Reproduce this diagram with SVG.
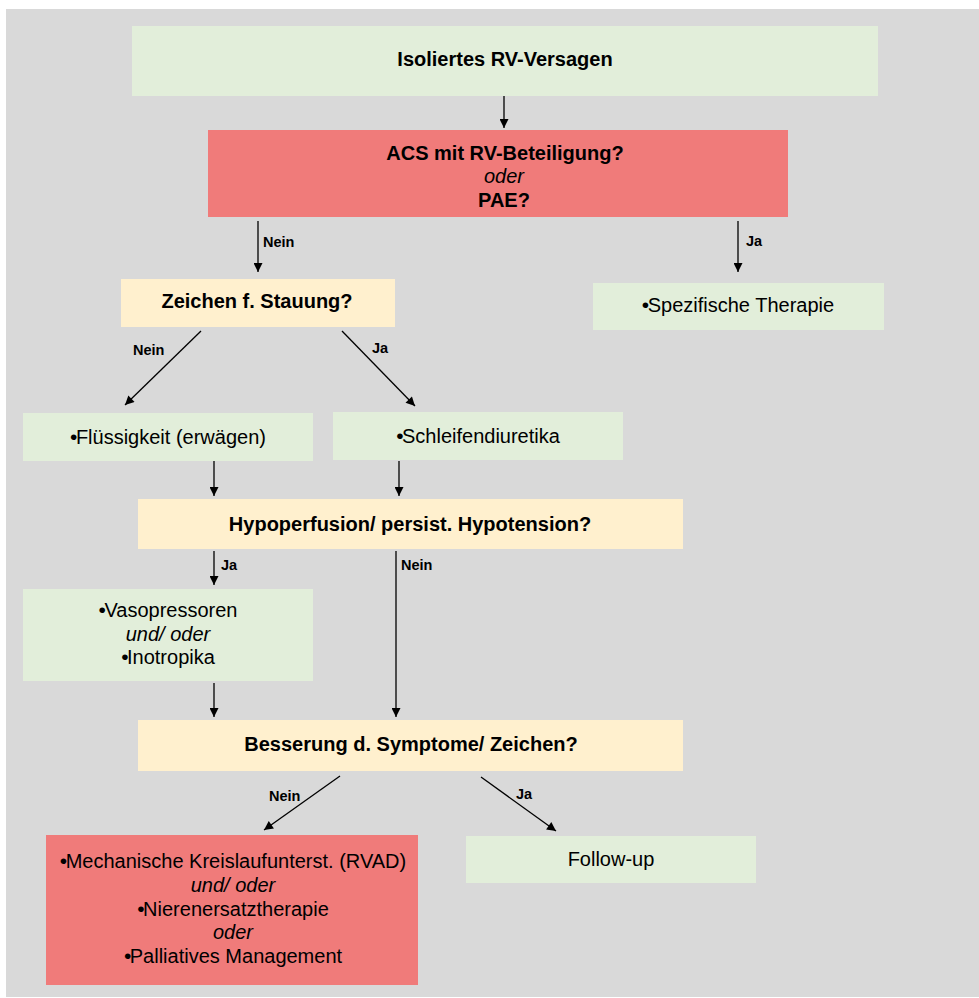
<svg xmlns="http://www.w3.org/2000/svg" width="979" height="998" viewBox="0 0 979 998">
<defs>
<style>
.g{fill:#E2EEDA}.r{fill:#F07B7A}.y{fill:#FFF0CE}
text{font-family:"Liberation Sans",Arial,sans-serif;fill:#000;text-anchor:middle}
.b{font-size:20px;font-weight:bold}
.n{font-size:20px}
.i{font-size:20px;font-style:italic}
.d{font-size:21px;letter-spacing:-1.5px}
.l{font-size:14.5px;font-weight:bold;text-anchor:start}
.c{stroke:#000;stroke-width:1.3;fill:none;marker-end:url(#ah)}
</style>
<marker id="ah" viewBox="0 0 10 10" refX="10" refY="5" markerWidth="10" markerHeight="9" markerUnits="userSpaceOnUse" orient="auto"><path d="M0,0L10,5L0,10z" fill="#000"/></marker>
</defs>
<rect x="0" y="0" width="979" height="998" fill="#fff"/>
<rect x="6" y="9" width="973" height="988" fill="#D9D9D9"/>
<g id="n1"><rect class="g" x="132" y="26" width="746" height="70"/><text class="b" x="505" y="66">Isoliertes RV-Versagen</text></g>
<g id="n2"><rect class="r" x="208" y="130" width="580" height="87"/><text class="b" x="505" y="160">ACS mit RV-Beteiligung?</text><text class="i" x="504" y="183">oder</text><text class="b" x="504" y="207">PAE?</text></g>
<g id="n3"><rect class="y" x="121" y="279" width="274" height="48"/><text class="b" x="257" y="308">Zeichen f. Stauung?</text></g>
<g id="n4"><rect class="g" x="593" y="283" width="291" height="47"/><text class="n" x="738" y="312"><tspan class="d">•</tspan>Spezifische Therapie</text></g>
<g id="n5"><rect class="g" x="23" y="413" width="290" height="48"/><text class="n" x="168" y="443.5"><tspan class="d">•</tspan>Flüssigkeit (erwägen)</text></g>
<g id="n6"><rect class="g" x="333" y="412" width="290" height="48"/><text class="n" x="478" y="442.5"><tspan class="d">•</tspan>Schleifendiuretika</text></g>
<g id="n7"><rect class="y" x="138" y="499" width="545" height="50"/><text class="b" x="410" y="531">Hypoperfusion/ persist. Hypotension?</text></g>
<g id="n8"><rect class="g" x="23" y="589" width="290" height="92"/><text class="n" x="168" y="617"><tspan class="d">•</tspan>Vasopressoren</text><text class="i" x="168" y="640.5">und/ oder</text><text class="n" x="168" y="664"><tspan class="d">•</tspan>Inotropika</text></g>
<g id="n9"><rect class="y" x="138" y="720" width="545" height="51"/><text class="b" x="411" y="751">Besserung d. Symptome/ Zeichen?</text></g>
<g id="n10"><rect class="r" x="46" y="835" width="372" height="150"/><text class="n" x="233" y="868"><tspan class="d">•</tspan>Mechanische Kreislaufunterst. (RVAD)</text><text class="i" x="233" y="891.5">und/ oder</text><text class="n" x="233" y="915.5"><tspan class="d">•</tspan>Nierenersatztherapie</text><text class="i" x="233" y="939">oder</text><text class="n" x="233" y="963"><tspan class="d">•</tspan>Palliatives Management</text></g>
<g id="n11"><rect class="g" x="466" y="836" width="290" height="47"/><text class="n" x="611" y="866">Follow-up</text></g>
<g id="connectors">
<path class="c" d="M504,96V128"/>
<path class="c" d="M258,221V272"/>
<path class="c" d="M738,221V272"/>
<path class="c" d="M201,331L125,405"/>
<path class="c" d="M342,331L415,406"/>
<path class="c" d="M214,461V496"/>
<path class="c" d="M399,461V496"/>
<path class="c" d="M214,551V585"/>
<path class="c" d="M396,551V717"/>
<path class="c" d="M214,683V717"/>
<path class="c" d="M340,776L264,830"/>
<path class="c" d="M481,777L556,831"/>
<text class="l" x="263" y="247">Nein</text>
<text class="l" x="746" y="246">Ja</text>
<text class="l" x="133" y="355">Nein</text>
<text class="l" x="372" y="353">Ja</text>
<text class="l" x="221" y="570">Ja</text>
<text class="l" x="401" y="570">Nein</text>
<text class="l" x="269" y="801">Nein</text>
<text class="l" x="516" y="799">Ja</text>
</g>
</svg>
